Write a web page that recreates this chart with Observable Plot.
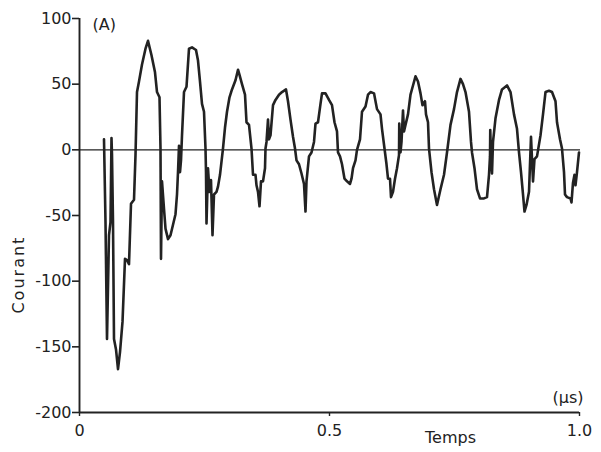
<!DOCTYPE html>
<html>
<head>
<meta charset="utf-8">
<script src="https://cdn.jsdelivr.net/npm/d3@7"></script>
<script src="https://cdn.jsdelivr.net/npm/@observablehq/plot@0.6"></script>
<style>
  html, body { margin: 0; padding: 0; background: #fff; }
  #chart svg { display: block; }
</style>
</head>
<body>
<div id="chart"></div>
<script>
// Time (µs) and current (A)
const times = [
  0.049,0.052,0.055,0.059,0.062,0.064,0.065,0.067,0.069,0.073,0.077,0.081,0.086,0.091,0.095,0.099,
  0.103,0.109,0.112,0.115,0.119,0.125,0.132,0.137,0.144,0.151,0.155,0.160,0.162,0.163,0.165,0.169,
  0.172,0.177,0.182,0.187,0.192,0.195,0.197,0.199,0.201,0.203,0.205,0.209,0.214,0.219,0.225,0.233,
  0.237,0.241,0.245,0.249,0.252,0.253,0.254,0.257,0.260,0.263,0.266,0.269,0.274,0.277,0.281,0.284,
  0.287,0.291,0.295,0.300,0.305,0.312,0.317,0.320,0.325,0.331,0.334,0.339,0.344,0.347,0.352,0.354,
  0.357,0.360,0.363,0.367,0.371,0.372,0.374,0.377,0.379,0.382,0.387,0.392,0.399,0.405,0.413,0.417,
  0.422,0.427,0.431,0.434,0.439,0.444,0.449,0.452,0.454,0.459,0.464,0.469,0.472,0.477,0.482,0.485,
  0.492,0.499,0.505,0.510,0.515,0.517,0.521,0.525,0.530,0.535,0.541,0.544,0.547,0.552,0.555,0.561,
  0.565,0.572,0.577,0.582,0.589,0.595,0.602,0.605,0.610,0.614,0.617,0.621,0.623,0.627,0.631,0.635,
  0.639,0.6395,0.642,0.644,0.647,0.649,0.652,0.657,0.662,0.667,0.672,0.677,0.682,0.686,0.691,0.693,
  0.697,0.699,0.704,0.709,0.715,0.722,0.729,0.735,0.742,0.749,0.755,0.762,0.767,0.772,0.779,0.783,
  0.785,0.790,0.795,0.801,0.809,0.815,0.819,0.821,0.8215,0.823,0.825,0.827,0.832,0.839,0.845,0.855,
  0.862,0.869,0.875,0.879,0.883,0.887,0.890,0.894,0.899,0.903,0.905,0.907,0.910,0.915,0.922,0.927,
  0.932,0.939,0.945,0.952,0.955,0.961,0.965,0.969,0.971,0.975,0.982,0.984,0.987,0.990,0.992,0.995,
  0.999
];
const currents = [
  8,-55,-144,-65,-55,9,-4,-55,-144,-152,-167,-154,-131,-83,-84,-87,
  -41,-38,-4,44,52,65,77,83,72,59,44,40,1,-83,-24,-45,
  -60,-68,-65,-57,-49,-34,-17,3,-17,-8,11,44,48,77,78,76,
  68,52,35,29,1,-17,-56,-14,-32,-23,-65,-34,-32,-28,-19,-9,
  1,17,29,40,46,53,61,57,50,42,21,19,1,-19,-19,-27,
  -32,-43,-24,-24,-14,1,6,23,8,11,34,38,42,44,46,37,
  23,10,1,-8,-11,-18,-26,-47,-24,-5,-2,6,20,21,35,43,
  43,38,34,21,14,-2,-5,-11,-22,-24,-26,-22,-14,-8,0,8,
  29,33,42,44,43,31,27,16,1,-11,-22,-22,-36,-32,-22,-14,
  -4,20,-2,6,30,14,19,27,42,49,56,52,43,34,37,27,
  21,1,-17,-30,-42,-30,-19,-2,19,31,44,54,50,44,29,6,
  -2,-14,-30,-37,-37,-36,-19,-5,15,-4,-18,6,24,38,46,49,
  44,27,16,-2,-17,-34,-47,-42,-32,10,-7,-24,-7,-5,11,27,
  44,45,44,37,21,8,1,-17,-34,-36,-37,-40,-25,-19,-27,-17,
  -2
];
const yTicks = [-200, -150, -100, -50, 0, 50, 100];
const xTicks = [0, 0.5, 1.0];
const xTickLabels = ["0", "0.5", "1.0"];
const yLabel = "Courant";
const xLabel = "Temps";
const yUnit = "(A)";
const xUnit = "(\u03bcs)";

const data = times.map((t, i) => ({t, v: currents[i]}));
const ink = "#222";
const font = "'DejaVu Sans', sans-serif";

const chart = Plot.plot({
  width: 601,
  height: 452,
  marginLeft: 79,
  marginRight: 22,
  marginTop: 18,
  marginBottom: 40,
  style: {fontFamily: font, fontSize: "16px", color: ink, background: "#fff"},
  x: {domain: [0, 1], ticks: xTicks},
  y: {domain: [-200, 100], ticks: yTicks},
  marks: [
    Plot.axisY({ticks: yTicks, tickSize: 7, tickPadding: 1, tickFormat: d => String(d),
      fontSize: 16, label: null, strokeWidth: 1.6}),
    Plot.axisX({ticks: xTicks, tickSize: 4, tickPadding: 8, tickFormat: (d, i) => xTickLabels[i],
      fontSize: 16, label: null, strokeWidth: 1.4}),
    Plot.ruleX([0], {stroke: ink, strokeWidth: 1.9}),
    Plot.ruleY([-200], {stroke: ink, strokeWidth: 1.9}),
    Plot.ruleY([0], {x1: 0, x2: 1.002, stroke: ink, strokeWidth: 1.4}),
    Plot.line(data, {x: "t", y: "v", stroke: ink, strokeWidth: 2.6, strokeLinejoin: "round"}),
    Plot.text([yUnit], {x: 0.026, y: 95, text: d => d, textAnchor: "start", fontSize: 16, fill: ink}),
    Plot.text([xUnit], {x: 1.008, y: -189, text: d => d, textAnchor: "end", fontSize: 16, fill: ink}),
    Plot.text([xLabel], {x: 0.742, y: -200, dy: 25, text: d => d, fontSize: 16, fill: ink}),
    Plot.text([yLabel], {x: 0, y: -95, dx: -61, rotate: -90, text: d => d, fontSize: 16, fill: ink})
  ]
});
d3.select(chart).selectAll("text").filter(function() { return this.textContent === yLabel; })
  .style("letter-spacing", "2px");
document.getElementById("chart").appendChild(chart);
</script>
</body>
</html>
